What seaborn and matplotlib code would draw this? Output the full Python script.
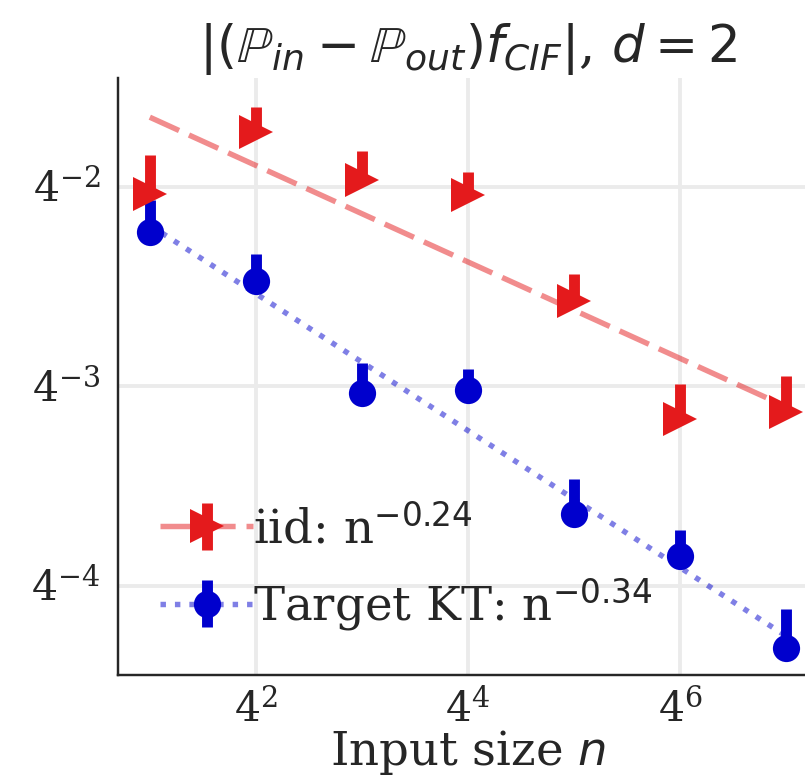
import numpy as np
import matplotlib
matplotlib.use("Agg")
import matplotlib.pyplot as plt
import seaborn as sns
from matplotlib.legend_handler import HandlerTuple

# input sizes and MMD-style errors
n_sizes = [4, 16, 64, 256, 1024, 4096, 16384]
iid_err = [0.0595, 0.0916, 0.0656, 0.0591, 0.0283, 0.01244, 0.01305]
iid_up = [0.0185, 0.0173, 0.0147, 0.0102, 0.0058, 0.0035, 0.0038]
kt_err = [0.0457, 0.0325, 0.01489, 0.01520, 0.00646, 0.00481, 0.002543]
kt_up = [0.0114, 0.0068, 0.00356, 0.0025, 0.00178, 0.00097, 0.00079]

sns.set_theme(style="white")
plt.rcParams['font.family'] = ['DejaVu Serif']
plt.rcParams['mathtext.fontset'] = 'dejavusans'

red = '#e41a1c'
blue = '#0000cd'

fig = plt.figure(figsize=(805 / 140, 778 / 140), dpi=140)
ax = fig.add_axes([118 / 805, 103 / 778, 700 / 805, 597 / 778])
ax.set_xscale('log', base=4)
ax.set_yscale('log', base=4)


def rate_fit(x, y):
    slope, icpt = np.polyfit(np.log(x), np.log(y), 1)
    return slope, np.exp(icpt) * np.asarray(x, dtype=float) ** slope


handles, labels = [], []
for y, up, col, ls, mk, ms, name, z in [
    (iid_err, iid_up, red, (0, (5.9, 2.0)), '>', 17.5, 'iid', 4),
    (kt_err, kt_up, blue, ':', 'o', 14, 'Target KT', 3),
]:
    slope, fit = rate_fit(n_sizes, y)
    sns.lineplot(x=n_sizes, y=fit, ax=ax, color=col, alpha=0.5, lw=2.8,
                 linestyle=ls, zorder=z - 1)
    line = ax.lines[-1]
    eb = ax.errorbar(n_sizes, y, yerr=[np.zeros(len(y)), up], fmt=mk,
                     color=col, ms=ms, mew=0, elinewidth=5.6, capsize=0,
                     zorder=z)
    handles.append((line, eb))
    labels.append(f"{name}: n$^{{{slope:.2f}}}$")

ax.set_xlim(4 ** 0.7, 4 ** 7.3)
ax.set_ylim(4 ** -4.446, 4 ** -1.454)
ax.set_xticks([4 ** 2, 4 ** 4, 4 ** 6])
ax.minorticks_off()
ax.grid(True, which='major', color='#ebebeb', lw=2.0)
ax.set_axisbelow(True)
ax.tick_params(axis='x', labelsize=21, pad=2)
ax.tick_params(axis='y', labelsize=21, pad=3)
sns.despine(ax=ax)

ax.set_title(r'$|(\mathbb{P}_{in} - \mathbb{P}_{out})f_{CIF}|$, $d=2$',
             fontsize=26.5, pad=8)
ax.set_xlabel('Input size $n$', fontsize=24, labelpad=-2)

ax.legend(handles, labels, loc='lower left', frameon=False, fontsize=24,
          handlelength=2.0, handletextpad=0.0,
          handler_map={tuple: HandlerTuple(ndivide=1, pad=0)})

fig.savefig('out.png', dpi=140)
